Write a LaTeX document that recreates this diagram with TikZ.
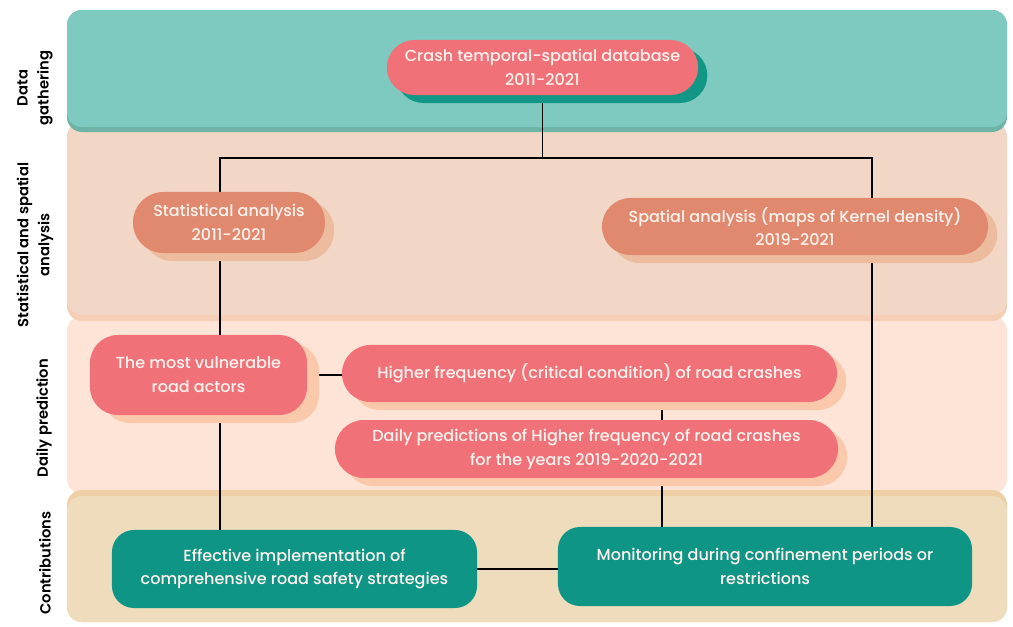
\documentclass[tikz,border=0pt]{standalone}
\usepackage{fontspec}
\setmainfont{Poppins}
\newfontfamily\medfamily{Poppins Medium}
\newfontfamily\semifamily{Poppins SemiBold}
\usetikzlibrary{shapes.misc,shadows,backgrounds}
\definecolor{databand}{HTML}{7ECAC0}
\definecolor{datashade}{HTML}{6DB4A7}
\definecolor{statband}{HTML}{F2D7C7}
\definecolor{statshade}{HTML}{F6CDB5}
\definecolor{dailyband}{HTML}{FDE4D6}
\definecolor{contband}{HTML}{EEDCBD}
\definecolor{contshade}{HTML}{EFCFA6}
\definecolor{pinkbox}{HTML}{F07178}
\definecolor{salmonbox}{HTML}{E0896F}
\definecolor{tealbox}{HTML}{0E9585}
\definecolor{tealshade}{HTML}{129786}
\definecolor{salmonshade}{HTML}{EDBB9E}
\definecolor{peachshade}{HTML}{FAC8AA}
\definecolor{boxtext}{HTML}{FFF3EE}
\newcommand{\myfontbox}{\medfamily\fontsize{11.4}{17}\selectfont}
\newcommand{\myfontband}{\semifamily\fontsize{10.5}{15}\selectfont}
\begin{document}
\begin{tikzpicture}[x=0.025cm,y=-0.025cm,
	stage/.style 2 args={rounded rectangle, fill=#1, text=boxtext, align=center, inner sep=0pt, font=\myfontbox,
		drop shadow={fill=#2, opacity=1, shadow xshift=0.23cm, shadow yshift=-0.2cm}},
	result/.style={rectangle, rounded corners=0.55cm, fill=tealbox, text=boxtext, align=center, inner sep=0pt, font=\myfontbox},
	bandlabel/.style={rotate=90, align=center, text=black, font=\myfontband},
	link/.style={draw=black, line width=1.2pt}]
			%Page frame
			\useasboundingbox (0,0) rectangle (1013,626);
			%Band labels on the left
			\node [bandlabel] (lbldata) at (35,88) {Data\\gathering};
			\node [bandlabel] (lblstat) at (35,245) {Statistical and spatial\\analysis};
			\node [bandlabel] (lbldaily) at (44,418) {Daily prediction};
			\node [bandlabel] (lblcont) at (45,563) {Contributions};
			%Data gathering
			\node [stage={pinkbox}{tealshade}, minimum width=7.78cm, minimum height=1.375cm] (crash) at (542.5,67.5)
				{Crash temporal-spatial database\\2011-2021};
			%Statistical and spatial analysis
			\node [stage={salmonbox}{salmonshade}, minimum width=4.8cm, minimum height=1.525cm] (stat) at (229,222.5)
				{Statistical analysis\\2011-2021};
			\node [stage={salmonbox}{salmonshade}, minimum width=9.65cm, minimum height=1.425cm] (spatial) at (795,226.5)
				{Spatial analysis (maps of Kernel density)\\2019-2021};
			%Daily prediction
			\node [rectangle, rounded corners=0.7cm, fill=pinkbox, text=boxtext, align=center, inner sep=0pt, font=\myfontbox,
				drop shadow={fill=peachshade, opacity=1, shadow xshift=0.3cm, shadow yshift=-0.2cm},
				minimum width=5.425cm, minimum height=2cm] (vuln) at (198.5,375)
				{The most vulnerable\\road actors};
			\node [stage={pinkbox}{peachshade}, minimum width=12.375cm, minimum height=1.425cm] (higher) at (589.5,373.5)
				{Higher frequency (critical condition) of road crashes};
			\node [stage={pinkbox}{peachshade}, minimum width=12.575cm, minimum height=1.45cm] (daily) at (586.5,449)
				{Daily predictions of Higher frequency of road crashes\\for the years 2019-2020-2021};
			%Contributions
			\node [result, minimum width=9.125cm, minimum height=1.95cm] (effective) at (294.5,569)
				{Effective implementation of\\comprehensive road safety strategies};
			\node [result, minimum width=10.35cm, minimum height=1.975cm] (monitoring) at (765,566.5)
				{Monitoring during confinement periods or\\restrictions};
			\begin{scope}[on background layer]
			%Bands, lowest first
			\fill [dailyband, rounded corners=0.375cm] (67,316) rectangle (1007,494);
			\fill [contshade, rounded corners=0.375cm] (67,490) rectangle (1007,622);
			\fill [contband, rounded corners=0.375cm] (67,496) rectangle (1007,622);
			\fill [statshade, rounded corners=0.375cm] (67,122) rectangle (1007,321);
			\fill [statband, rounded corners=0.375cm] (67,122) rectangle (1007,315);
			\fill [datashade, rounded corners=0.375cm] (67,10) rectangle (1007,132);
			\fill [databand, rounded corners=0.375cm] (67,10) rectangle (1007,127);
			%Spine of the tree
			\coordinate (lx) at (220,158);
			\coordinate (rx) at (872,158);
			\coordinate (mx) at (662,0);
			\draw [link] (crash.south) -- (crash.south |- lx);
			\draw [link] (stat.north -| lx) -- (lx) -- (rx) -- (spatial.north -| rx);
			\draw [link] (stat.south -| lx) -- (vuln.north -| lx);
			\draw [link] (vuln.south -| lx) -- (effective.north -| lx);
			\draw [link] (spatial.south -| rx) -- (monitoring.north -| rx);
			\draw [link] (vuln.east) -- (higher.west |- vuln.east);
			\draw [link] (higher.south -| mx) -- (daily.north -| mx);
			\draw [link] (daily.south -| mx) -- (monitoring.north -| mx);
			\draw [link] (effective.east) -- (monitoring.west |- effective.east);
			\end{scope}
\end{tikzpicture}
\end{document}
